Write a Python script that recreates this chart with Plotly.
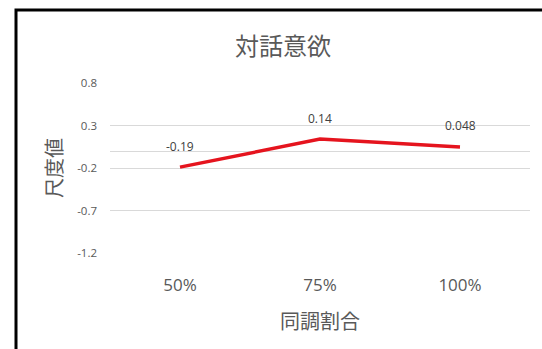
import plotly.graph_objects as go

categories = ["50%", "75%", "100%"]
values = [-0.19, 0.14, 0.048]
labels = ["-0.19", "0.14", "0.048"]
y_ticks = [0.8, 0.3, -0.2, -0.7, -1.2]
y_ticktext = ["0.8", "0.3", "-0.2", "-0.7", "-1.2"]

W, H = 542, 349
L, R, T, B = 110, 12, 83, 96
pw, ph = W - L - R, H - T - B

def px(x):
    return (x - L) / pw

def py(y):
    return (H - B - y) / ph

jp = "Noto Sans CJK JP"
num = "Open Sans, Liberation Sans, sans-serif"

fig = go.Figure()
fig.add_trace(go.Scatter(
    x=categories, y=values, mode="lines",
    line=dict(color="#E5141E", width=3.5),
    hoverinfo="skip",
))

for c, v, t in zip(categories, values, labels):
    fig.add_annotation(x=c, y=v, text=t, showarrow=False, yshift=21,
                       xanchor="center", yanchor="middle",
                       font=dict(family=num, size=12, color="#404040"))

fig.update_layout(
    width=W, height=H,
    margin=dict(l=L, r=R, t=T, b=B),
    paper_bgcolor="white", plot_bgcolor="white",
    showlegend=False,
    xaxis=dict(type="category", range=[-0.5, 2.5], showgrid=False,
               showline=False, zeroline=False, ticks="",
               tickfont=dict(family=num, size=17, color="#595959"),
               ticklabelstandoff=20),
    yaxis=dict(range=[-1.2, 0.8], tickvals=y_ticks, ticktext=y_ticktext,
               showgrid=True, gridcolor="#D9D9D9", gridwidth=1,
               zeroline=True, zerolinecolor="#D9D9D9", zerolinewidth=1,
               showline=False, ticks="",
               tickfont=dict(family=num, size=11.5, color="#595959"),
               ticklabelstandoff=12),
)

# Title and axis titles
fig.add_annotation(xref="paper", yref="paper", x=px(283), y=py(45),
                   xanchor="center", yanchor="middle",
                   text="対話意欲", showarrow=False,
                   font=dict(family=jp, size=24, color="#595959"))
fig.add_annotation(xref="paper", yref="paper", x=px(320), y=py(320),
                   xanchor="center", yanchor="middle",
                   text="同調割合", showarrow=False,
                   font=dict(family=jp, size=20, color="#595959"))
fig.add_annotation(xref="paper", yref="paper", x=px(53), y=py(168),
                   xanchor="center", yanchor="middle",
                   text="尺度値", showarrow=False, textangle=-90,
                   font=dict(family=jp, size=20, color="#595959"))

# Black frame (left and top edges visible)
fig.add_shape(type="rect", xref="paper", yref="paper",
              x0=px(16), x1=px(W + 20), y0=py(H + 20), y1=py(10),
              line=dict(color="black", width=3), fillcolor="rgba(0,0,0,0)")

fig.write_html("out.html")
